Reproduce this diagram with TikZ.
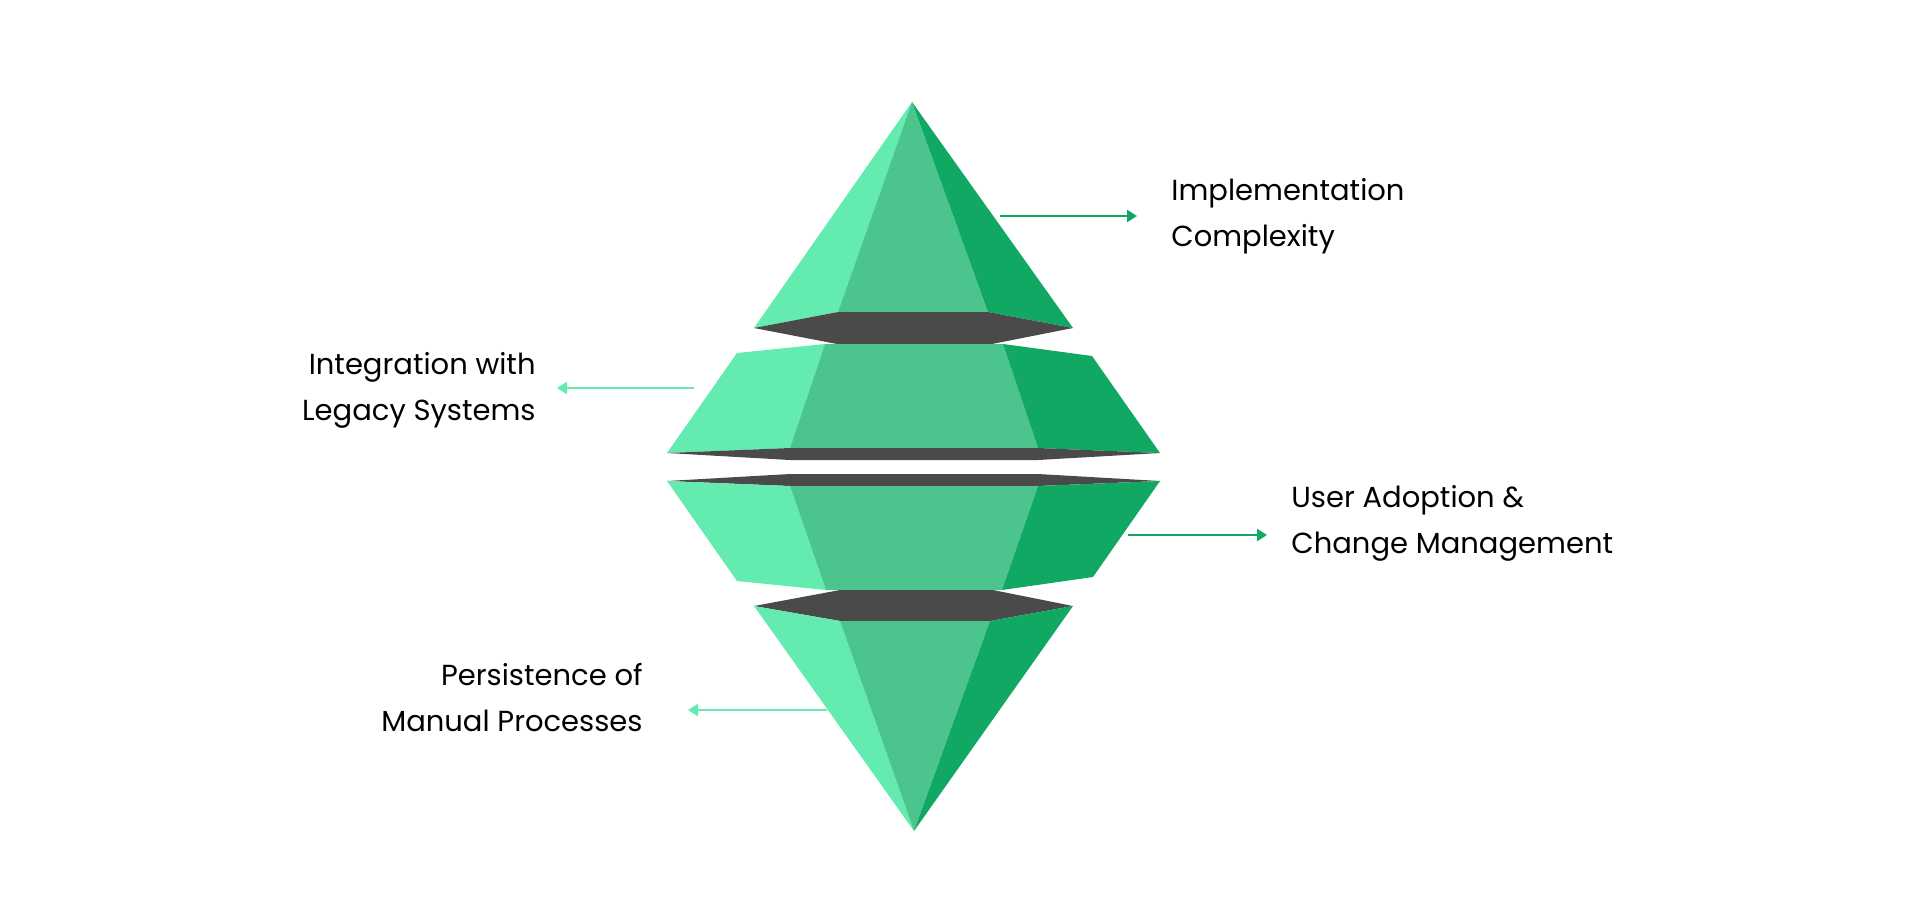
\documentclass[tikz,border=0pt]{standalone}
\usepackage{fontspec}
\setmainfont{Poppins}
\usetikzlibrary{arrows.meta}
\definecolor{gLight}{HTML}{63EBB0}
\definecolor{gMid}{HTML}{4BC48E}
\definecolor{gDark}{HTML}{10A862}
\definecolor{gBand}{HTML}{4A4A4A}
\begin{document}
\begin{tikzpicture}[x=0.5pt,y=-0.5pt,
  lab/.style={font=\fontsize{14.5}{23}\selectfont, align=left, anchor=west, inner sep=0},
  labr/.style={font=\fontsize{14.5}{23}\selectfont, align=right, anchor=east, inner sep=0},
  conn/.style={line width=1.2pt, -{Triangle[length=5pt,width=6pt]}}]
\useasboundingbox (0,0) rectangle (1920,900);
% tier 1
\fill[gLight] (912,102) -- (754,328) -- (838,312) -- cycle;
\fill[gMid] (912,102) -- (838,312) -- (988,312) -- cycle;
\fill[gDark] (912,102) -- (988,312) -- (1073,328) -- cycle;
\fill[gBand] (754,328) -- (838,312) -- (988,312) -- (1073,328) -- (992,344) -- (837,344) -- cycle;
% tier 2
\fill[gLight] (737,353) -- (825,344) -- (790,448) -- (667,453) -- cycle;
\fill[gMid] (825,344) -- (1003,344) -- (1038,448) -- (790,448) -- cycle;
\fill[gDark] (1003,344) -- (1092,356) -- (1160,453) -- (1038,448) -- cycle;
\fill[gBand] (667,453) -- (790,448) -- (1038,448) -- (1160,453) -- (1038,460) -- (790,460) -- cycle;
% tier 3
\fill[gBand] (667,481) -- (790,474) -- (1038,474) -- (1160,481) -- (1038,486) -- (790,486) -- cycle;
\fill[gLight] (667,481) -- (790,486) -- (826,590) -- (737,581) -- cycle;
\fill[gMid] (790,486) -- (1038,486) -- (1002,590) -- (826,590) -- cycle;
\fill[gDark] (1038,486) -- (1160,481) -- (1093,577) -- (1002,590) -- cycle;
% tier 4
\fill[gBand] (754,606) -- (840,590) -- (993,590) -- (1073,606) -- (990,621) -- (840,621) -- cycle;
\fill[gLight] (754,606) -- (840,621) -- (914,831) -- cycle;
\fill[gMid] (840,621) -- (990,621) -- (914,831) -- cycle;
\fill[gDark] (990,621) -- (1073,606) -- (914,831) -- cycle;
% connectors
\coordinate (s1) at (1000,216); \coordinate (e1) at (1137,216);
\coordinate (s2) at (694,388);  \coordinate (e2) at (557,388);
\coordinate (s3) at (1128,535); \coordinate (e3) at (1267,535);
\coordinate (s4) at (827,710);  \coordinate (e4) at (688,710);
\draw[conn, gDark] (s1) -- (e1);
\draw[conn, gLight] (s2) -- (e2);
\draw[conn, gDark] (s3) -- (e3);
\draw[conn, gLight] (s4) -- (e4);
% labels
\node[lab] (t1) at (1171,216) {Implementation\\Complexity};
\node[labr] (t2) at (536,390) {Integration with\\Legacy Systems};
\node[lab] (t3) at (1291,523) {User Adoption \&\\Change Management};
\node[labr] (t4) at (643,698) {Persistence of\\Manual Processes};
\end{tikzpicture}
\end{document}
